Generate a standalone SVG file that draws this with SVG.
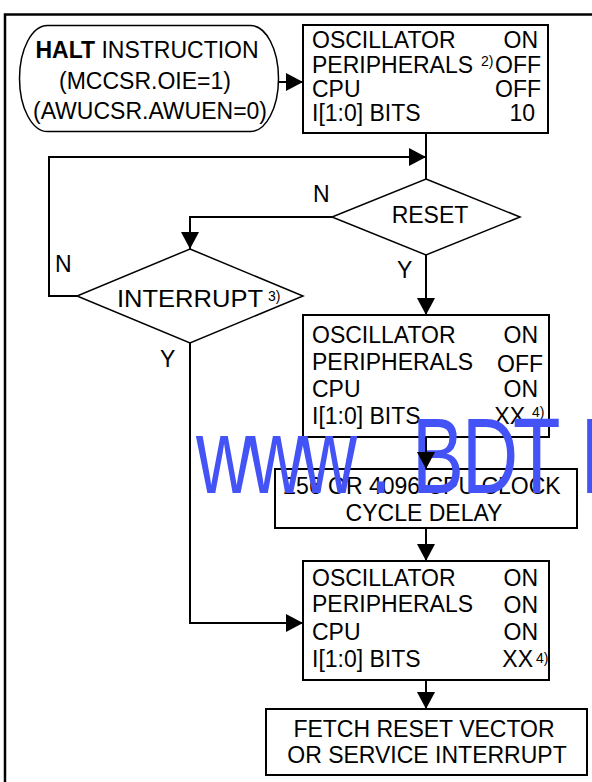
<svg xmlns="http://www.w3.org/2000/svg" width="592" height="782" viewBox="0 0 592 782">
<defs>
<marker id="ah" markerUnits="userSpaceOnUse" markerWidth="18" markerHeight="18" refX="17" refY="9" orient="auto">
<path d="M0,0 L17,9 L0,18 Z" fill="#000"/>
</marker>
<style>
text{font-family:"Liberation Sans",Arial,Helvetica,sans-serif;font-size:23px;fill:#000}
.box{fill:#fff;stroke:#000;stroke-width:2}
.dia{fill:#fff;stroke:#000;stroke-width:1.5}
.c{fill:none;stroke:#000;stroke-width:2}
.sup{font-size:14px}
.mid{text-anchor:middle}
.end{text-anchor:end}
.wm{font-size:108px;fill:#4353F5}
</style>
</defs>
<rect width="592" height="782" fill="#fff"/>
<path d="M5,782 V14.5 H592" fill="none" stroke="#000" stroke-width="2.5"/>

<g id="halt">
<rect x="19.5" y="25.5" width="259" height="106" rx="28" ry="53" class="dia"/>
<text x="147" y="58" class="mid"><tspan font-weight="bold">HALT</tspan> INSTRUCTION</text>
<text x="145" y="89" class="mid">(MCCSR.OIE=1)</text>
<text x="150" y="119" class="mid">(AWUCSR.AWUEN=0)</text>
</g>

<g id="state1">
<rect x="303" y="25" width="245" height="108" class="box"/>
<text x="312" y="48">OSCILLATOR</text>
<text x="312" y="72.5">PERIPHERALS</text>
<text x="481" y="66" class="sup">2)</text>
<text x="312" y="97">CPU</text>
<text x="312" y="121">I[1:0] BITS</text>
<text x="538" y="48" class="end">ON</text>
<text x="541" y="73" class="end">OFF</text>
<text x="541" y="97" class="end">OFF</text>
<text x="535" y="121" class="end">10</text>
</g>

<g id="reset">
<polygon points="426,179 520,217 426,255 332,217" class="dia"/>
<text x="430" y="223" class="mid">RESET</text>
</g>

<g id="interrupt">
<polygon points="190,249 303,296 190,343 77,296" class="dia"/>
<text x="117" y="307" textLength="146" lengthAdjust="spacingAndGlyphs">INTERRUPT</text>
<text x="268" y="301" class="sup">3)</text>
</g>

<g id="state2">
<rect x="303" y="315" width="246" height="122" class="box"/>
<text x="312" y="343">OSCILLATOR</text>
<text x="312" y="370">PERIPHERALS</text>
<text x="312" y="397">CPU</text>
<text x="312" y="424">I[1:0] BITS</text>
<text x="538" y="343" class="end">ON</text>
<text x="543" y="372" class="end">OFF</text>
<text x="538" y="397" class="end">ON</text>
<text x="525" y="424" class="end">XX</text>
<text x="532" y="417" class="sup">4)</text>
</g>

<g id="delay">
<rect x="275" y="469" width="302" height="59" class="box"/>
<text x="422" y="494" class="mid">256 OR 4096 CPU CLOCK</text>
<text x="424" y="521" class="mid">CYCLE DELAY</text>
</g>

<g id="state3">
<rect x="303" y="561" width="246" height="119" class="box"/>
<text x="312" y="586">OSCILLATOR</text>
<text x="312" y="612">PERIPHERALS</text>
<text x="312" y="640">CPU</text>
<text x="312" y="667">I[1:0] BITS</text>
<text x="538" y="586" class="end">ON</text>
<text x="538" y="613" class="end">ON</text>
<text x="538" y="640" class="end">ON</text>
<text x="533" y="667" class="end">XX</text>
<text x="536" y="663" class="sup">4)</text>
</g>

<g id="fetch">
<rect x="266" y="709" width="321" height="66" class="box"/>
<text x="424" y="737" class="mid">FETCH RESET VECTOR</text>
<text x="427" y="763" class="mid">OR SERVICE INTERRUPT</text>
</g>

<g id="watermark">
<text class="wm" y="493" transform="scale(0.72,1)" x="272.2 345.1 418.1 513.9 572.2 641.7 712.5 805.6">www.BDTIC.com</text>
</g>

<g id="connectors">
<path d="M278.5,82 H303" class="c" marker-end="url(#ah)"/>
<path d="M426,133 V179" class="c"/>
<path d="M332,217 H190 V249" class="c" marker-end="url(#ah)"/>
<path d="M426,255 V315" class="c" marker-end="url(#ah)"/>
<path d="M77,296 H49 V157 H426" class="c" marker-end="url(#ah)"/>
<path d="M190,343 V623 H303" class="c" marker-end="url(#ah)"/>
<path d="M426,437 V469" class="c" marker-end="url(#ah)"/>
<path d="M426,528 V561" class="c" marker-end="url(#ah)"/>
<path d="M426,680 V709" class="c" marker-end="url(#ah)"/>
<text x="313" y="202">N</text>
<text x="397" y="278">Y</text>
<text x="55" y="272">N</text>
<text x="160" y="367">Y</text>
</g>
</svg>
